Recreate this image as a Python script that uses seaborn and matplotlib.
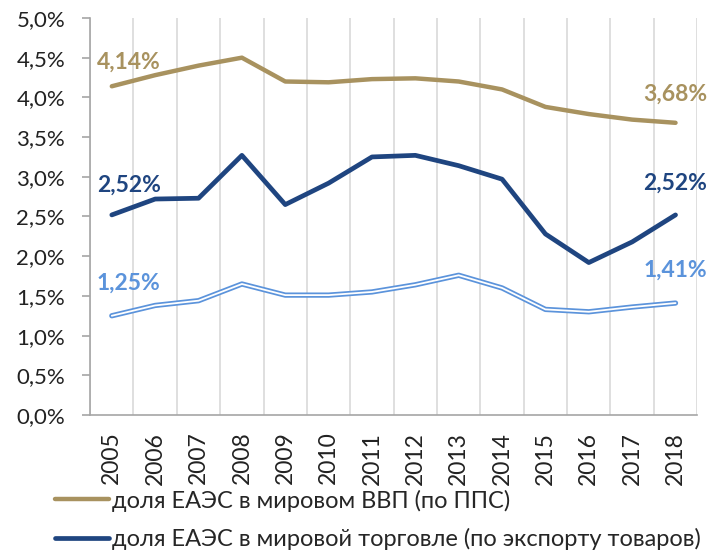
import numpy as np
import pandas as pd
import matplotlib
matplotlib.use('Agg')
import matplotlib.pyplot as plt
from matplotlib.lines import Line2D
import seaborn as sns

# Data
years = [2005, 2006, 2007, 2008, 2009, 2010, 2011, 2012, 2013, 2014, 2015, 2016, 2017, 2018]
gdp_share = [4.14, 4.28, 4.40, 4.50, 4.20, 4.19, 4.23, 4.24, 4.20, 4.10, 3.88, 3.79, 3.72, 3.68]
trade_share = [2.52, 2.72, 2.73, 3.27, 2.65, 2.92, 3.25, 3.27, 3.14, 2.97, 2.28, 1.92, 2.18, 2.52]
third_share = [1.25, 1.38, 1.44, 1.65, 1.51, 1.51, 1.55, 1.64, 1.76, 1.60, 1.33, 1.30, 1.36, 1.41]
labels = ['доля ЕАЭС в мировом ВВП (по ППС)',
          'доля ЕАЭС в мировой торговле (по экспорту товаров)']
yticks = [0, 0.5, 1.0, 1.5, 2.0, 2.5, 3.0, 3.5, 4.0, 4.5, 5.0]

gold = '#A8925F'
navy = '#1F4580'
light = '#5B93DB'

sns.set_style('white')
plt.rcParams['font.family'] = ['Lato', 'DejaVu Sans']

df = pd.DataFrame({'year': years, 'gdp': gdp_share, 'trade': trade_share, 'third': third_share})

fig = plt.figure(figsize=(7.21, 5.53), dpi=100)
ax = fig.add_axes([0.125, 0.2495, 0.842, 0.718])

sns.lineplot(data=df, x='year', y='gdp', ax=ax, color=gold, linewidth=3.2)
sns.lineplot(data=df, x='year', y='trade', ax=ax, color=navy, linewidth=3.4)
sns.lineplot(data=df, x='year', y='third', ax=ax, color=light, linewidth=3.8)
sns.lineplot(data=df, x='year', y='third', ax=ax, color='white', linewidth=1.3)

# data labels at the ends
def fmt(v):
    return f'{v:.2f}%'.replace('.', ',')

for series, col, dy in [(gdp_share, gold, 24), (trade_share, navy, 30), (third_share, light, 33)]:
    ax.annotate(fmt(series[0]), (years[0], series[0]), xytext=(17, dy),
                textcoords='offset pixels', ha='center', va='center',
                color=col, fontsize=16.5, fontweight='bold')
for series, col, dy in [(gdp_share, gold, 29), (trade_share, navy, 32), (third_share, light, 33)]:
    ax.annotate(fmt(series[-1]), (years[-1], series[-1]), xytext=(0, dy),
                textcoords='offset pixels', ha='center', va='center',
                color=col, fontsize=16.5, fontweight='bold')

ax.set_xlim(2004.5, 2018.5)
ax.set_ylim(0, 5.0)
ax.set_xticks(years)
ax.set_xticklabels([str(y) for y in years], rotation=90, fontsize=16.5, color='#222222')
ax.set_xticks(np.arange(2004.5, 2018.6, 0.5), minor=True)
ax.set_yticks(yticks)
ax.set_yticklabels([f'{v:.1f}%'.replace('.', ',') for v in yticks], fontsize=16, color='#222222')
ax.grid(False)
ax.grid(which='minor', axis='x', color='#D9D9D9', linewidth=1.2)
ax.tick_params(axis='x', which='both', length=0, pad=12)
ax.tick_params(axis='y', length=6, width=1.2, color='#A6A6A6', pad=12, left=True)
ax.set_xlabel('')
ax.set_ylabel('')

for s in ['top', 'right']:
    ax.spines[s].set_visible(False)
for s in ['left', 'bottom']:
    ax.spines[s].set_color('#A6A6A6')
    ax.spines[s].set_linewidth(1.2)

handles = [Line2D([0], [0], color=gold, linewidth=3.2),
           Line2D([0], [0], color=navy, linewidth=3.4)]
fig.legend(handles, labels, loc='center left', bbox_to_anchor=(0.076, 0.060),
           frameon=False, fontsize=17, handlelength=2.3, handletextpad=0.12,
           labelspacing=0.7, borderpad=0, borderaxespad=0)

fig.savefig('out.png', dpi=100)
